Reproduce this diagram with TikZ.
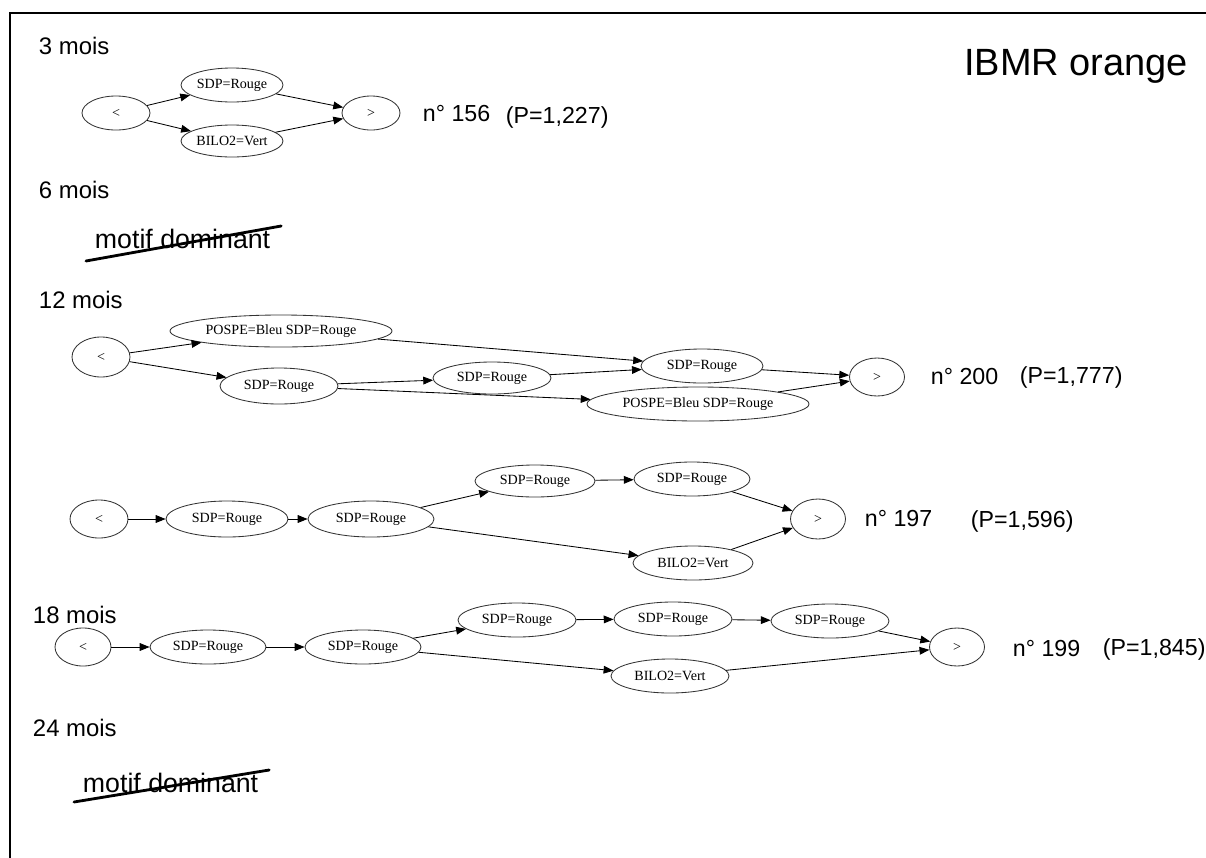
\documentclass[tikz,border=0pt]{standalone}
\usepackage{fontspec}
\setmainfont{Liberation Sans}
\newfontfamily\lser{Liberation Serif}
\usepackage{tikz}
\usetikzlibrary{arrows.meta,shapes.geometric,calc}

\tikzset{
  etat/.style={ellipse,draw=black!80,line width=0.6pt,inner sep=0pt,font=\lser\fontsize{10}{12}\selectfont},
  fl/.style={-{Triangle[length=7pt,width=5.5pt]},line width=0.6pt},
  titre/.style={anchor=west,font=\fontsize{17}{20}\selectfont},
  motif/.style={anchor=base west,font=\fontsize{19}{22}\selectfont},
  numero/.style={anchor=west,font=\fontsize{16.5}{19}\selectfont},
  proba/.style={anchor=west,font=\fontsize{16.5}{19}\selectfont},
  barre/.style={line width=2pt,line cap=round},
}

\begin{document}
\begin{tikzpicture}[x=0.025cm,y=-0.025cm]
\useasboundingbox (0,0) rectangle (1206,857);
\draw[line width=1.4pt] (10,860) -- (10,13) -- (1210,13);

\node[anchor=east,font=\fontsize{27}{32}\selectfont] (titre) at (1193,66) {IBMR orange};

% 3 mois
\node[titre] (l3) at (34,46) {3 mois};
\foreach \name/\x/\y/\w/\h/\txt in {t3d/116/113/68/34/<,t3s/232/85/102/34/SDP=Rouge,t3b/232/141/102/32/BILO2=Vert,t3f/371/113/58/34/>} {
  \node[etat,minimum width=\w*0.025cm,minimum height=\h*0.025cm] (\name) at (\x,\y) {\txt};
}
\draw[fl] (t3d) -- (t3s);
\draw[fl] (t3d) -- (t3b);
\draw[fl] (t3s) -- (t3f);
\draw[fl] (t3b) -- (t3f);
\node[numero] (n156) at (418,114) {n° 156};
\node[proba] (p156) at (501,117) {(P=1,227)};

% 6 mois
\node[titre] (l6) at (34,190) {6 mois};
\node[motif] (m6) at (90,248) {motif dominant};
\draw[barre] ($(m6.base west)+(-4,13)$) -- ($(m6.base east)+(6,-22)$);

% 12 mois
\node[titre] (l12) at (34,300) {12 mois};
\foreach \name/\x/\y/\w/\h/\txt in {d12/101/357/58/40/<,p12a/281/331/222/32/POSPE=Bleu SDP=Rouge,s12a/279/386/118/36/SDP=Rouge,s12b/492/378/118/32/SDP=Rouge,s12c/702/366/122/34/SDP=Rouge,p12b/698/404/222/34/POSPE=Bleu SDP=Rouge,f12/877/377/55/38/>} {
  \node[etat,minimum width=\w*0.025cm,minimum height=\h*0.025cm] (\name) at (\x,\y) {\txt};
}
\draw[fl] (d12) -- (p12a);
\draw[fl] (d12) -- (s12a);
\draw[fl] (p12a) -- (s12c);
\draw[fl] (s12a) -- (s12b);
\draw[fl] (s12a) -- (p12b);
\draw[fl] (s12b) -- (s12c);
\draw[fl] (s12c) -- (f12);
\draw[fl] (p12b) -- (f12);
\node[numero] (n200) at (926,377) {n° 200};
\node[proba] (p200) at (1015,377) {(P=1,777)};

\foreach \name/\x/\y/\w/\h/\txt in {d197/99/519/58/38/<,s197a/227/519/122/36/SDP=Rouge,s197b/371/519/126/36/SDP=Rouge,s197c/535/481/120/32/SDP=Rouge,s197d/692/479/116/34/SDP=Rouge,b197/693/563/120/34/BILO2=Vert,f197/818/519/55/40/>} {
  \node[etat,minimum width=\w*0.025cm,minimum height=\h*0.025cm] (\name) at (\x,\y) {\txt};
}
\draw[fl] (d197) -- (s197a);
\draw[fl] (s197a) -- (s197b);
\draw[fl] (s197b) -- (s197c);
\draw[fl] (s197b) -- (b197);
\draw[fl] (s197c) -- (s197d);
\draw[fl] (s197d) -- (f197);
\draw[fl] (b197) -- (f197);
\node[numero] (n197) at (860,519) {n° 197};
\node[proba] (p197) at (966,521) {(P=1,596)};

% 18 mois
\node[titre] (l18) at (28,615) {18 mois};
\foreach \name/\x/\y/\w/\h/\txt in {d199/83/647/56/38/<,s199a/208/647/116/34/SDP=Rouge,s199b/363/647/116/34/SDP=Rouge,s199c/517/620/118/34/SDP=Rouge,s199d/673/619/118/34/SDP=Rouge,s199e/830/621/118/34/SDP=Rouge,b199/670/676/118/34/BILO2=Vert,f199/957/647/55/38/>} {
  \node[etat,minimum width=\w*0.025cm,minimum height=\h*0.025cm] (\name) at (\x,\y) {\txt};
}
\draw[fl] (d199) -- (s199a);
\draw[fl] (s199a) -- (s199b);
\draw[fl] (s199b) -- (s199c);
\draw[fl] (s199b) -- (b199);
\draw[fl] (s199c) -- (s199d);
\draw[fl] (s199d) -- (s199e);
\draw[fl] (s199e) -- (f199);
\draw[fl] (b199) -- (f199);
\node[numero] (n199) at (1008,649) {n° 199};
\node[proba] (p199) at (1098,649) {(P=1,845)};

% 24 mois
\node[titre] (l24) at (28,728) {24 mois};
\node[motif] (m24) at (78,792) {motif dominant};
\draw[barre] ($(m24.base west)+(-4,10)$) -- ($(m24.base east)+(6,-22)$);
\end{tikzpicture}
\end{document}
